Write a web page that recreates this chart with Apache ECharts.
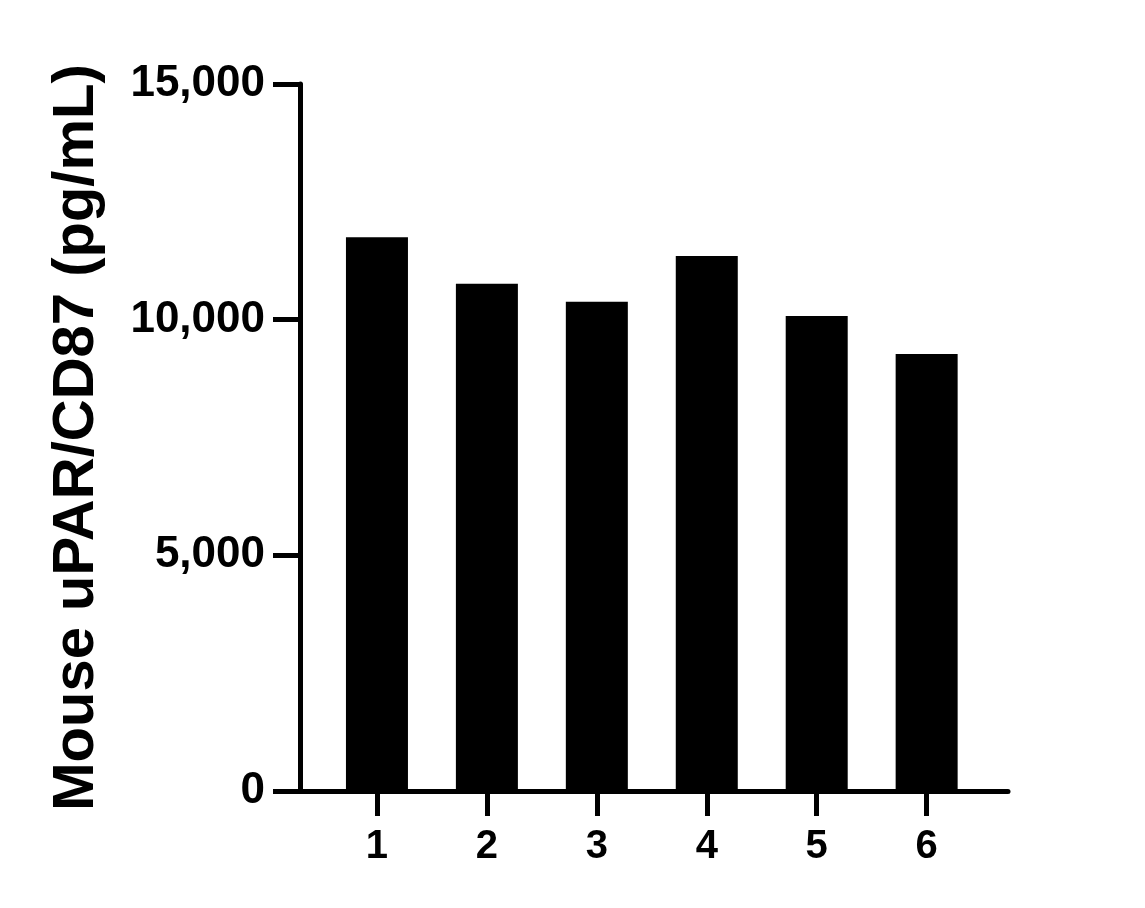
<!DOCTYPE html>
<html>
<head>
<meta charset="utf-8">
<script src="https://cdn.jsdelivr.net/npm/echarts@6/dist/echarts.min.js"></script>
<style>
  html, body { margin: 0; padding: 0; background: #fff; }
  #chart { width: 1145px; height: 908px; }
</style>
</head>
<body>
<div id="chart"></div>
<script>
// 样本编号与浓度
const samples = [1, 2, 3, 4, 5, 6];
const concentrations = [11750, 10760, 10380, 11350, 10080, 9270];
const yTicks = [0, 5000, 10000, 15000];

const chart = echarts.init(document.getElementById('chart'));
const fontFamily = '"Liberation Sans", Arial, sans-serif';

chart.setOption({
  backgroundColor: '#fff',
  animation: false,
  grid: { left: 300, right: 137, top: 84, bottom: 117 },
  xAxis: {
    type: 'value',
    min: 0.3,
    max: 6.74,
    splitLine: { show: false },
    axisLine: { lineStyle: { color: '#000', width: 5 } },
    axisTick: {
      customValues: samples,
      length: 25,
      lineStyle: { color: '#000', width: 5 },
    },
    axisLabel: {
      customValues: samples,
      color: '#000',
      fontSize: 40,
      fontWeight: 'bold',
      fontFamily,
      margin: 36,
    },
  },
  yAxis: {
    type: 'value',
    min: 0,
    max: 15000,
    interval: 5000,
    name: 'Mouse uPAR/CD87 (pg/mL)',
    nameLocation: 'middle',
    nameGap: 194,
    nameTextStyle: { color: '#000', fontSize: 58, fontWeight: 'bold', fontFamily },
    splitLine: { show: false },
    axisLine: { show: true, lineStyle: { color: '#000', width: 5 } },
    axisTick: { show: true, length: 27, lineStyle: { color: '#000', width: 5 } },
    axisLabel: {
      color: '#000',
      fontSize: 44,
      fontWeight: 'bold',
      fontFamily,
      margin: 35,
      customValues: yTicks,
      formatter: v => v.toLocaleString('en-US'),
    },
  },
  series: [{
    type: 'bar',
    data: samples.map((s, i) => [s, concentrations[i]]),
    barWidth: 62,
    itemStyle: { color: '#000' },
  }],
});
</script>
</body>
</html>
